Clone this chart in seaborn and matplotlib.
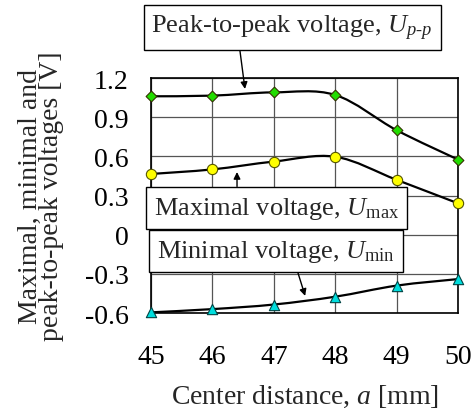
import numpy as np
import pandas as pd
import seaborn as sns
import matplotlib
matplotlib.use("Agg")
import matplotlib.pyplot as plt
from matplotlib.path import Path
from matplotlib.patches import PathPatch

a_mm = [45, 46, 47, 48, 49, 50]
u_pp = [1.06, 1.065, 1.09, 1.07, 0.80, 0.575]
u_max = [0.465, 0.50, 0.56, 0.597, 0.42, 0.24]
u_min = [-0.595, -0.57, -0.535, -0.475, -0.39, -0.34]
y_ticks = [-0.6, -0.3, 0, 0.3, 0.6, 0.9, 1.2]
y_tick_labels = ["-0.6", "-0.3", "0", "0.3", "0.6", "0.9", "1.2"]

sns.set_theme(style="white")
plt.rcParams['font.family'] = ['Liberation Serif', 'DejaVu Serif']
plt.rcParams['mathtext.fontset'] = 'custom'
plt.rcParams['mathtext.rm'] = 'Liberation Serif'
plt.rcParams['mathtext.it'] = 'Liberation Serif:italic'
plt.rcParams['mathtext.bf'] = 'Liberation Serif:bold'

fig = plt.figure(figsize=(4.71, 4.10), dpi=100)
ax = fig.add_axes([0.3206, 0.2341, 0.652, 0.5732])

df = pd.DataFrame({"a": a_mm, "pp": u_pp, "mx": u_max, "mn": u_min})


def smooth_path(xs, ys):
    # Catmull-Rom style cubic bezier through data points
    xs = np.asarray(xs, float); ys = np.asarray(ys, float)
    n = len(xs)
    verts = [(xs[0], ys[0])]
    codes = [Path.MOVETO]
    t = 1.0 / 6.0
    for i in range(n - 1):
        p0 = (xs[max(i - 1, 0)], ys[max(i - 1, 0)])
        p1 = (xs[i], ys[i])
        p2 = (xs[i + 1], ys[i + 1])
        p3 = (xs[min(i + 2, n - 1)], ys[min(i + 2, n - 1)])
        c1 = (p1[0] + (p2[0] - p0[0]) * t, p1[1] + (p2[1] - p0[1]) * t)
        c2 = (p2[0] - (p3[0] - p1[0]) * t, p2[1] - (p3[1] - p1[1]) * t)
        verts += [c1, c2, p2]
        codes += [Path.CURVE4] * 3
    return Path(verts, codes)


for col in ["pp", "mx", "mn"]:
    ax.add_patch(PathPatch(smooth_path(df["a"], df[col]), facecolor="none",
                           edgecolor="black", lw=1.6, zorder=3))

sns.scatterplot(data=df, x="a", y="pp", marker="D", s=30, color="#22dd00",
                edgecolor="#333300", linewidth=0.8, ax=ax, zorder=5, clip_on=False)
sns.scatterplot(data=df, x="a", y="mx", marker="o", s=55, color="#ffff00",
                edgecolor="#555500", linewidth=0.8, ax=ax, zorder=5, clip_on=False)
sns.scatterplot(data=df, x="a", y="mn", marker="^", s=55, color="#00dddd",
                edgecolor="#004444", linewidth=0.8, ax=ax, zorder=5, clip_on=False)

ax.set_xlim(45, 50)
ax.set_ylim(-0.6, 1.2)
ax.set_xticks(a_mm)
ax.set_yticks(y_ticks)
ax.set_yticklabels(y_tick_labels)
ax.grid(True, color="#555555", lw=0.9)
ax.tick_params(direction="in", length=7, width=1, colors="black",
               labelsize=20, pad=16)
ax.tick_params(axis="x", pad=22)
for s in ax.spines.values():
    s.set_color("black")
    s.set_linewidth(1.2)

ax.set_xlabel("Center distance, $\\mathit{a}$ [mm]", fontsize=20, labelpad=10)
ax.set_ylabel("Maximal, minimal and\npeak-to-peak voltages [V]", fontsize=20,
              labelpad=15, linespacing=0.8)

box = dict(boxstyle="square,pad=0.3", fc="white", ec="black", lw=1)
arrow = dict(arrowstyle="-|>", color="black", lw=1, mutation_scale=10,
             shrinkA=0, shrinkB=0)

ax.annotate("Peak-to-peak voltage, $U_{p\\text{-}p}$", xy=(46.53, 1.116),
            xytext=(47.30, 1.59), fontsize=19, ha="center", va="center",
            bbox=box, arrowprops=dict(arrow, relpos=(0.31, 0.0)),
            annotation_clip=False, zorder=6)
ax.annotate("Maximal voltage, $U_{\\mathrm{max}}$", xy=(46.40, 0.48),
            xytext=(47.04, 0.205), fontsize=19, ha="center", va="center",
            bbox=box, arrowprops=dict(arrow, relpos=(0.34, 1.0)),
            annotation_clip=False, zorder=6)
ax.annotate("Minimal voltage, $U_{\\mathrm{min}}$", xy=(47.51, -0.469),
            xytext=(47.04, -0.128), fontsize=19, ha="center", va="center",
            bbox=box, arrowprops=dict(arrow, relpos=(0.58, 0.0)),
            annotation_clip=False, zorder=6)

fig.savefig("out.png", dpi=100)
